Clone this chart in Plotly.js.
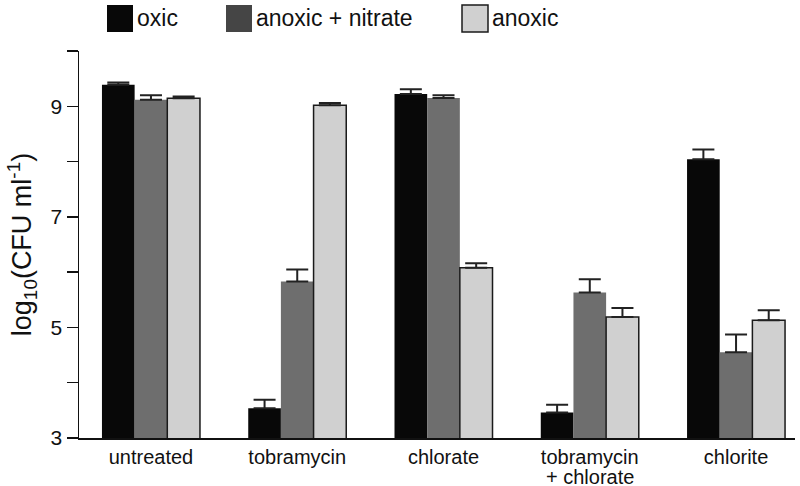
<!DOCTYPE html>
<html>
<head>
<meta charset="utf-8">
<script src="https://cdn.plot.ly/plotly-3.0.1.min.js"></script>
<style>html,body{margin:0;padding:0;background:#fff;}#chart{width:800px;height:486px;}</style>
</head>
<body>
<div id="chart"></div>
<script>
const categories = ['untreated', 'tobramycin', 'chlorate', 'tobramycin', 'chlorite'];
const categorySecondLine = ['', '', '', '+ chlorate', ''];
const seriesNames = ['oxic', 'anoxic + nitrate', 'anoxic'];
const oxic = [9.39, 3.54, 9.22, 3.46, 8.04];
const oxicErr = [0.04, 0.15, 0.09, 0.14, 0.18];
const nitrate = [9.12, 5.83, 9.15, 5.63, 4.55];
const nitrateErr = [0.08, 0.22, 0.05, 0.24, 0.32];
const anoxic = [9.145, 9.02, 6.08, 5.19, 5.13];
const anoxicErr = [0.03, 0.04, 0.08, 0.16, 0.18];
const yTickVals = [3, 4, 5, 6, 7, 8, 9, 10];
const yTickText = ['3', '', '5', '', '7', '', '9', ''];

const colors = ['#080808', '#6e6e6e', '#d0d0d0'];
const legendColors = ['#080808', '#454545', '#d0d0d0'];
const xIdx = categories.map((c, i) => i);
const FONT = 'Liberation Sans, Arial, sans-serif';

function mk(vals, errs, i, outlined) {
  return {
    type: 'bar', x: xIdx, y: vals, name: seriesNames[i],
    marker: { color: colors[i], line: { color: outlined ? '#1a1a1a' : colors[i], width: outlined ? 1.5 : 0 } },
    error_y: { type: 'data', array: errs, arrayminus: errs.map(() => 0), symmetric: false, color: '#222', thickness: 2, width: 11 },
    showlegend: false, hoverinfo: 'skip'
  };
}
const traces = [
  mk(oxic, oxicErr, 0, false),
  mk(nitrate, nitrateErr, 1, false),
  mk(anoxic, anoxicErr, 2, true)
];

const legX = [107, 226, 462];
const shapes = [], annotations = [];
const W = 800, H = 486, L = 79, R = 5, T = 51, B = 48;
const pw = W - L - R, ph = H - T - B;
function px(xp) { return (xp - L) / pw; }
function py(yp) { return (H - B - yp) / ph; }
seriesNames.forEach((n, i) => {
  shapes.push({ type: 'rect', xref: 'paper', yref: 'paper',
    x0: px(legX[i]), x1: px(legX[i] + 26), y0: py(32), y1: py(5),
    fillcolor: legendColors[i], line: { color: '#1a1a1a', width: i === 2 ? 1.5 : 0 } });
  annotations.push({ xref: 'paper', yref: 'paper', x: px(legX[i] + 28), y: py(18),
    xanchor: 'left', yanchor: 'middle', text: n, showarrow: false,
    font: { family: FONT, size: 23, color: '#111' } });
});
categorySecondLine.forEach((t, i) => {
  if (!t) return;
  annotations.push({ xref: 'x', yref: 'paper', x: i, y: py(477), xanchor: 'center', yanchor: 'middle',
    text: t, showarrow: false, font: { family: FONT, size: 20, color: '#111' } });
});

const layout = {
  width: W, height: H,
  margin: { l: L, r: R, t: T, b: B, pad: 0 },
  paper_bgcolor: '#fff', plot_bgcolor: '#fff',
  barmode: 'group', bargap: 0.33, bargroupgap: 0,
  font: { family: FONT, color: '#111' },
  xaxis: {
    range: [-0.492, 4.403], tickmode: 'array', tickvals: xIdx, ticktext: categories,
    showline: true, linecolor: '#111', linewidth: 1.5, ticks: '', showgrid: false, zeroline: false,
    tickfont: { family: FONT, size: 20, color: '#111' }, fixedrange: true
  },
  yaxis: {
    range: [3, 10], tickmode: 'array',
    tickvals: yTickVals, ticktext: yTickText,
    showline: true, linecolor: '#111', linewidth: 1.5, ticks: 'outside', ticklen: 11, tickwidth: 1.5, tickcolor: '#111',
    showgrid: false, zeroline: false, tickfont: { family: FONT, size: 21, color: '#111' },
    title: { text: 'log<sub>10</sub>(CFU ml<sup>-1</sup>)', font: { family: FONT, size: 27, color: '#111' }, standoff: 11 },
    fixedrange: true
  },
  shapes: shapes, annotations: annotations
};
Plotly.newPlot('chart', traces, layout, { displayModeBar: false, staticPlot: true });
</script>
</body>
</html>
